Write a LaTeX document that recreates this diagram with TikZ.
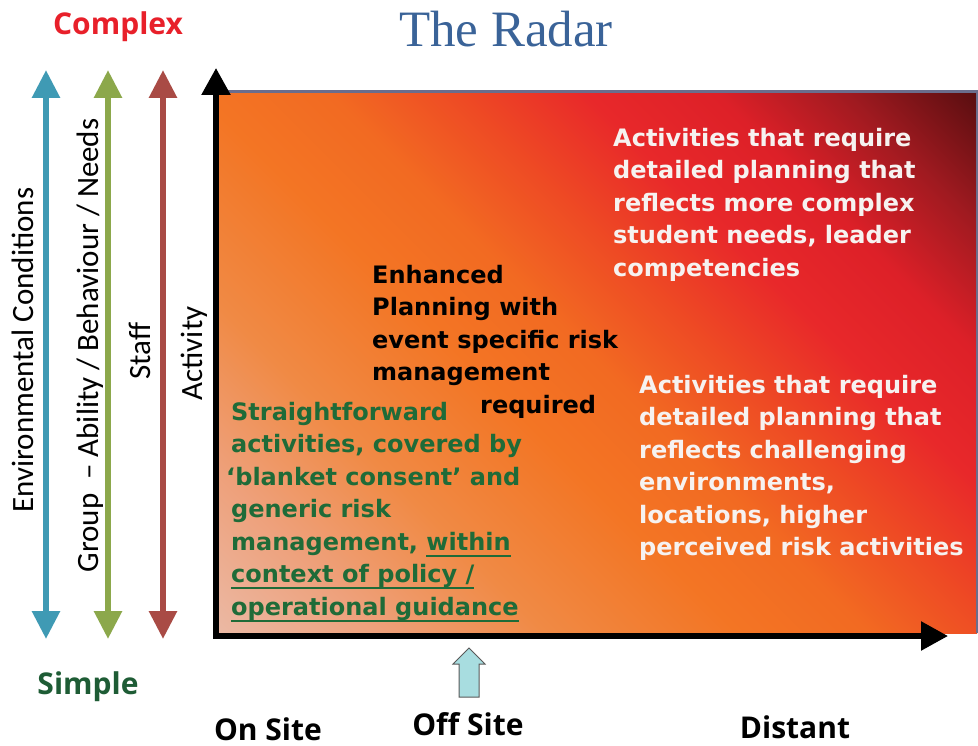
\documentclass[tikz,border=0pt]{standalone}
\usepackage{fontspec}
\setmainfont{DejaVu Sans}
\newfontfamily\dvb{DejaVu Sans}
\newfontfamily\osans{Open Sans}
\newfontfamily\carl{Carlito}
\newfontfamily\lserif{Liberation Serif}
\usetikzlibrary{arrows.meta}
\definecolor{sal}{HTML}{EBB8A3}
\definecolor{cA}{HTML}{EEA07A}
\definecolor{cB}{HTML}{F08A45}
\definecolor{cC}{HTML}{F37524}
\definecolor{cD}{HTML}{F26A22}
\definecolor{cE}{HTML}{EE4A24}
\definecolor{cF}{HTML}{E8282A}
\definecolor{cG}{HTML}{DD2028}
\definecolor{cH}{HTML}{A01A20}
\definecolor{cI}{HTML}{5A0E10}
\definecolor{envc}{HTML}{3F9AB4}
\definecolor{grpc}{HTML}{8CA84B}
\definecolor{stfc}{HTML}{A94B45}
\definecolor{complexc}{HTML}{E8202A}
\definecolor{simplec}{HTML}{1E5C35}
\definecolor{greentext}{HTML}{1F6B38}
\definecolor{titlec}{HTML}{3A6398}
\definecolor{borderc}{HTML}{6B6D8C}
\definecolor{offc}{HTML}{A8DDE0}
\definecolor{whitetext}{HTML}{F6F2F0}
\pgfdeclarehorizontalshading{radarshade}{100bp}{color(0bp)=(sal); color(14.64bp)=(sal); color(23.48bp)=(cA); color(32.32bp)=(cB); color(42.93bp)=(cC); color(50bp)=(cD); color(57.07bp)=(cE); color(64.14bp)=(cF); color(71.2bp)=(cG); color(78.29bp)=(cH); color(85.36bp)=(cI); color(100bp)=(cI)}
\newcommand\myul[1]{\setbox0\hbox{#1}\rlap{\rule[-6.5pt]{\wd0}{2pt}}\box0}
\tikzset{
  bodytext/.style={font=\dvb\bfseries\fontsize{24}{32.5}\selectfont, align=left, inner sep=0pt, anchor=north west},
  vlabel/.style={font=\carl\fontsize{31}{31}\selectfont, rotate=90, anchor=base, inner sep=0pt},
  endlabel/.style={font=\osans\bfseries\fontsize{30}{30}\selectfont, anchor=base, inner sep=0pt},
  scalearrow/.style={line width=6pt, {Triangle[width=27pt,length=28pt]}-{Triangle[width=27pt,length=28pt]}},
  axisline/.style={line width=5.5pt, black, line join=miter, {Triangle[width=28pt,length=27pt]}-{Triangle[width=28pt,length=27pt]}},
  blockarrow/.style={fill=offc, draw=gray!70!black, line width=1pt, line join=miter}
}
\begin{document}
\begin{tikzpicture}[x=1pt,y=-1pt]
\useasboundingbox[fill=white] (0,0) rectangle (978,746);
% field
\shade[shading=radarshade, shading angle=45] (218,92) rectangle (977,633);
\draw[borderc, line width=3pt] (218,92) -- (977,92) -- (977,633);
% axes
\coordinate (ytop) at (216,68);
\coordinate (origin) at (216,636);
\coordinate (xend) at (948,636);
\draw[axisline] (ytop) -- (origin) -- (xend);
% scale arrows
\coordinate (envtop) at (46,70);   \coordinate (envbot) at (46,639);
\coordinate (grptop) at (108,70);  \coordinate (grpbot) at (108,639);
\coordinate (stftop) at (163,70);  \coordinate (stfbot) at (163,639);
\draw[scalearrow, envc] (envtop) -- (envbot);
\draw[scalearrow, grpc] (grptop) -- (grpbot);
\draw[scalearrow, stfc] (stftop) -- (stfbot);
% vertical labels
\node[vlabel] (envlab) at (33,350) {Environmental Conditions};
\node[vlabel] (grplab) at (98,345.5) {Group\ \ – Ability / Behaviour / Needs};
\node[vlabel] (stflab) at (150,351) {Staff};
\node[vlabel] (actlab) at (202,353.5) {Activity};
% title and end labels
\node[font=\lserif\fontsize{51}{51}\selectfont, text=titlec, anchor=base, inner sep=0pt] (title) at (506,47) {The Radar};
\node[endlabel, text=complexc] (complex) at (118,35) {Complex};
\node[endlabel, text=simplec] (simple) at (88,694) {Simple};
\node[endlabel] (onsite) at (268,740) {On Site};
\node[endlabel] (offsite) at (468,735) {Off Site};
\node[endlabel] (distant) at (795,738) {Distant};
% off site marker
\draw[blockarrow] (459,697) -- (459,664) -- (453,664) -- (469,648) -- (485,664) -- (479,664) -- (479,697) -- cycle;
% texts
\node[bodytext, text=whitetext] (complexneeds) at (613,128) {Activities that require\\detailed planning that\\reflects more complex\\student needs, leader\\competencies};
\node[bodytext, text=black] (enhanced) at (372,265) {Enhanced\\Planning with\\event specific risk\\management\\\hspace*{108pt}required};
\node[bodytext, text=greentext] (straight) at (231,402) {Straightforward\\activities, covered by\\\hspace*{-5pt}‘blanket consent’ and\\generic risk\\management, \myul{within}\\\myul{context of policy /}\\\myul{operational guidance}};
\node[bodytext, text=whitetext] (challenging) at (639,375) {Activities that require\\detailed planning that\\reflects challenging\\environments,\\locations, higher\\perceived risk activities};
\end{tikzpicture}
\end{document}
